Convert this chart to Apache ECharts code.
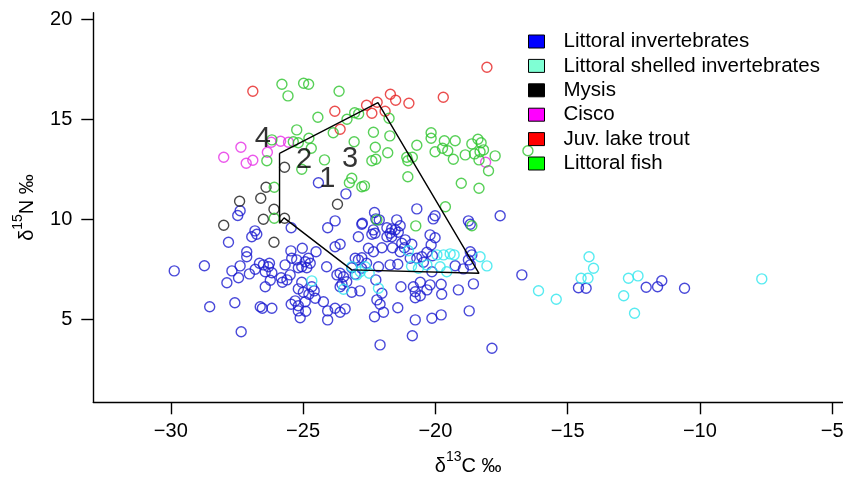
<!DOCTYPE html>
<html><head><meta charset="utf-8">
<script src="https://cdn.jsdelivr.net/npm/echarts@6/dist/echarts.min.js"></script>
<style>html,body{margin:0;padding:0;background:#fff}#c{width:843px;height:477px}</style>
</head><body><div id="c"></div>
<script>
const xTicks = [-30, -25, -20, -15, -10, -5];
const yTicks = [5, 10, 15, 20];
const seriesNames = ["Littoral invertebrates", "Littoral shelled invertebrates", "Mysis", "Cisco", "Juv. lake trout", "Littoral fish"];

const littoralInvertebrates = [
[-29.87,7.42],[-28.73,7.68],[-28.53,5.63],[-27.58,5.83],[-27.34,4.38],[-27.82,8.85],[-27.69,7.42],[-27.88,6.83],[-27.44,7.08],[-27.38,7.67],[-27.13,8.38],[-27.13,8.13],[-27.38,10.43],[-27.47,10.19],[-26.94,9.13],[-26.75,9.25],[-26.82,9.42],
[-27.03,7.27],[-26.81,7.5],[-26.65,7.8],[-26.5,7.72],[-26.31,7.63],[-26.27,7.8],[-26.43,7.38],[-26.18,7.33],[-26.24,6.95],[-26.43,6.63],
[-25.45,9.58],[-25.68,7.72],[-25.49,7.22],[-25.83,7.08],[-25.78,6.85],[-25.43,8.05],[-25.24,7.97],[-25.05,7.63],[-24.86,7.58],[-24.73,7.8],[-24.92,7.88],[-24.8,8.05],[-25.18,7.58],[-25.46,8.42],[-25.03,8.55],[-24.51,8.38],[-24.11,7.63],[-24.07,9.58],[-23.79,9.92],[-22.91,9.13],[-22.78,9.75],[-23.79,8.63],[-23.6,8.75],[-23.03,8.05],[-22.91,7.97],[-22.78,8.08],[-23.72,7.22],[-23.6,7.3],[-23.47,7.13],[-23.53,6.75],[-23.35,6.88],[-23.6,6.63],[-23.16,7.58],[-22.85,6.42],[-23.16,6.35],[-25.05,6.85],[-25.18,6.52],[-24.99,6.35],[-24.78,6.25],[-24.58,6.42],[-24.67,6.63],[-25.45,5.75],[-25.3,5.92],[-25.18,5.68],[-25.18,5.42],[-25.11,5.08],[-24.92,5.88],[-24.23,5.88],[-24.07,5.42],[-24.07,4.97],[-23.79,5.55],[-23.6,5.35],[-23.41,5.52],[-24.54,6.05],[-26.62,5.63],[-26.54,5.55],[-26.18,5.55],[-25.61,6.97],[-24.42,11.83],[-23.38,11.27],[-24.9,5.4],
[-22.3,10.34],[-22.25,10.02],[-22.12,9.97],[-20.7,10.52],[-20.01,10.18],[-20.08,10.02],[-18.75,9.92],[-18.68,9.75],[-17.55,10.18],[-22.76,9.8],[-21.46,9.97],[-21.33,9.68],[-21.83,9.58],[-21.65,9.52],[-21.52,9.47],[-21.71,9.3],[-21.83,9.13],[-21.65,9.13],[-21.4,9.35],[-22.34,9.47],[-22.4,9.25],[-22.28,9.3],[-21.14,8.97],[-21.27,8.8],[-21.17,8.58],[-21.33,8.38],[-22.02,8.58],[-22.53,8.55],[-22.34,8.38],[-21.62,8.58],[-20.89,8.75],[-20.2,9.22],[-20.01,9.08],[-20.16,8.72],[-20.32,8.35],[-20.51,8.13],[-20.7,8.05],[-22.6,7.8],[-22.15,7.63],[-21.71,7.72],[-21.42,7.75],[-20.95,8.05],[-20.11,8.18],[-20.45,7.85],[-20.13,7.38],[-19.25,7.68],[-18.94,7.52],[-18.68,7.72],[-18.68,8.38],[-18.62,8.22],[-18.75,7.97],[-22.79,7.55],[-23.03,7.25],[-22.25,6.97],[-21.3,6.63],[-20.83,6.63],[-20.76,6.38],[-20.57,6.85],[-20.32,6.47],[-20.2,6.72],[-19.78,6.75],[-19.76,6.25],[-19.13,6.47],[-18.56,6.77],[-22.02,6.3],[-20.57,6.18],[-20.76,6.08],[-22.21,5.97],[-22.09,5.75],[-21.96,5.35],[-22.3,5.13],[-21.42,5.58],[-20.76,4.97],[-20.13,5.05],[-19.78,5.22],[-18.72,5.42],[-20.87,4.18],[-22.09,3.72],[-17.86,3.55],[-16.73,7.22],[-14.59,6.58],[-14.3,6.55],[-12.03,6.6],[-11.6,6.63],[-11.44,6.93],[-10.58,6.55]
];
const shelledInvertebrates = [
[-21.02,8.43],[-19.94,8.22],[-19.69,8.22],[-19.44,8.27],[-19.29,8.22],[-18.31,8.13],[-18.05,7.67],[-22.65,7.63],[-22.84,7.38],[-22.5,7.3],[-22.15,6.55],[-23.47,6.5],[-20.64,7.55],[-20.32,7.72],[-20.9,7.65],[-19.82,7.63],[-19.57,7.38],[-24.67,6.92],[-22.97,7.22],[-23.16,7.63],[-16.1,6.43],[-15.43,6.0],[-14.19,8.13],[-14.02,7.55],[-14.49,7.05],[-14.23,7.05],[-12.7,7.05],[-12.34,7.17],[-12.88,6.18],[-12.47,5.3],[-7.66,7.02]
];
const mysis = [
[-25.7,12.6],[-26.4,11.6],[-26.6,11.05],[-27.4,10.9],[-23.7,10.75],[-26.1,10.5],[-28.0,9.7],[-26.5,10.0],[-25.7,10.05],[-26.1,8.85]
];
const cisco = [
[-28.0,13.1],[-27.35,13.6],[-27.15,12.8],[-26.9,12.95],[-26.35,13.35],[-26.2,13.85],[-25.85,13.9],[-25.55,13.85],[-18.1,12.85]
];
const juvLakeTrout = [
[-26.9,16.4],[-23.8,15.4],[-23.6,14.5],[-22.6,15.7],[-22.2,15.85],[-22.4,15.3],[-21.9,15.4],[-21.7,16.25],[-21.5,15.95],[-21.0,15.8],[-19.7,16.1],[-18.05,17.6]
];
const littoralFish = [
[-25.8,16.75],[-24.98,16.8],[-24.79,16.75],[-25.57,16.17],[-23.64,16.4],[-24.44,15.1],[-23.34,15.0],[-23.05,15.33],[-22.9,15.27],[-25.24,14.47],[-24.78,14.05],[-25.37,13.88],[-25.18,13.83],[-24.69,13.55],[-23.86,14.33],[-23.07,13.88],[-26.37,12.93],[-25.05,12.5],[-24.19,12.97],[-23.16,12.05],[-23.25,11.83],[-22.78,11.63],[-26.09,11.6],[-26.09,10.05],[-26.18,13.97],[-21.75,15.05],[-22.34,14.35],[-21.72,14.17],[-22.27,13.6],[-21.8,13.33],[-22.4,12.93],[-22.25,13.0],[-20.7,13.7],[-21.08,13.1],[-20.87,13.1],[-21.04,12.93],[-20.16,14.33],[-20.16,14.05],[-20.01,13.38],[-19.66,13.93],[-19.73,13.55],[-19.53,13.43],[-19.25,13.93],[-19.32,13.0],[-18.87,13.22],[-18.62,13.77],[-18.39,14.0],[-18.27,13.83],[-18.52,13.27],[-18.31,13.38],[-18.18,13.47],[-18.35,12.97],[-17.74,13.17],[-17.99,12.43],[-16.5,13.43],[-21.04,12.13],[-19.02,11.8],[-18.35,11.55],[-22.68,11.67],[-19.62,10.63],[-22.21,9.97],[-20.74,9.67],[-18.62,9.68]
];
const hull = [[-25.89,13.3],[-22.17,15.83],[-18.35,7.3],[-23.16,7.47],[-25.72,10.07],[-25.89,9.8],[-25.89,13.3]];
const hullLabels = [["4",-26.52,14.02],["2",-24.96,12.97],["1",-24.08,12.0],["3",-23.22,13.04]];

const pointColors = ["#1c1cd0", "#2ee6ee", "#1a1a1a", "#e62ee6", "#e62222", "#2ec42e"];
const legendColors = ["#0000ff", "#7fffd4", "#000000", "#ff00ff", "#ff0000", "#00ff00"];
const seriesData = [littoralInvertebrates, shelledInvertebrates, mysis, cisco, juvLakeTrout, littoralFish];

const FONT = "'Liberation Sans', Arial, Helvetica, sans-serif";
const fmt = v => v < 0 ? '\u2212' + Math.abs(v) : String(v);

const chart = echarts.init(document.getElementById('c'), null, {renderer: 'canvas'});
const series = seriesData.map((d, i) => ({
  name: seriesNames[i], type: 'scatter', data: d, symbol: 'circle', symbolSize: 10,
  itemStyle: {color: 'rgba(0,0,0,0)', borderColor: pointColors[i], borderWidth: 1.4},
  emphasis: {disabled: true}, z: 3
}));
series.push({
  name: 'hull', type: 'line', data: hull, symbol: 'none', silent: true,
  lineStyle: {color: '#000', width: 1.4}, z: 4
});
series.push({
  name: 'labels', type: 'scatter', symbolSize: 0, silent: true, z: 5,
  data: hullLabels.map(l => ({name: l[0], value: [l[1], l[2]]})),
  label: {show: true, position: 'inside', formatter: p => p.name, fontSize: 29, color: '#000', fontFamily: FONT}
});

chart.setOption({
  animation: false,
  backgroundColor: '#fff',
  grid: {left: 93.3, right: 0, top: 12.7, bottom: 74.7, containLabel: false, outerBoundsMode: 'none'},
  xAxis: {
    type: 'value', min: -32.93, max: -4.59,
    axisLine: {show: true, onZero: false, lineStyle: {color: '#000', width: 1.4}},
    axisTick: {show: true, length: 12, inside: false, customValues: xTicks, lineStyle: {color: '#000', width: 1.4}},
    axisLabel: {show: true, customValues: xTicks, formatter: fmt, fontSize: 20, color: '#000', fontFamily: FONT, margin: 19},
    splitLine: {show: false},
    name: '{a|δ}{b|13}{a|C ‰}', nameLocation: 'middle', nameGap: 48,
    nameTextStyle: {fontFamily: FONT, color: '#000', rich: {
      a: {fontSize: 20, fontFamily: FONT, color: '#000', lineHeight: 26, verticalAlign: 'bottom'},
      b: {fontSize: 14, fontFamily: FONT, color: '#000', lineHeight: 26, verticalAlign: 'top'}
    }}
  },
  yAxis: {
    type: 'value', min: 0.85, max: 20.33,
    axisLine: {show: true, onZero: false, lineStyle: {color: '#000', width: 1.4}},
    axisTick: {show: true, length: 12, inside: false, customValues: yTicks, lineStyle: {color: '#000', width: 1.4}},
    axisLabel: {show: true, customValues: yTicks, formatter: fmt, fontSize: 20, color: '#000', fontFamily: FONT, margin: 21},
    splitLine: {show: false},
    name: '{a|δ}{b|15}{a|N ‰}', nameLocation: 'middle', nameGap: 56, nameRotate: 90,
    nameTextStyle: {fontFamily: FONT, color: '#000', rich: {
      a: {fontSize: 20, fontFamily: FONT, color: '#000', lineHeight: 26, verticalAlign: 'bottom'},
      b: {fontSize: 14, fontFamily: FONT, color: '#000', lineHeight: 26, verticalAlign: 'top'}
    }}
  },
  legend: {
    orient: 'vertical', left: 523, top: 26, icon: 'rect', itemWidth: 16, itemHeight: 13, itemGap: 3.4,
    selectedMode: false,
    textStyle: {fontSize: 20.5, lineHeight: 20, color: '#000', fontFamily: FONT, padding: [0, 0, 0, 14]},
    data: seriesNames.map((n, i) => ({name: n, itemStyle: {color: legendColors[i], opacity: 1, borderColor: '#000', borderWidth: 1}}))
  },
  series: series
});
</script>
</body></html>
